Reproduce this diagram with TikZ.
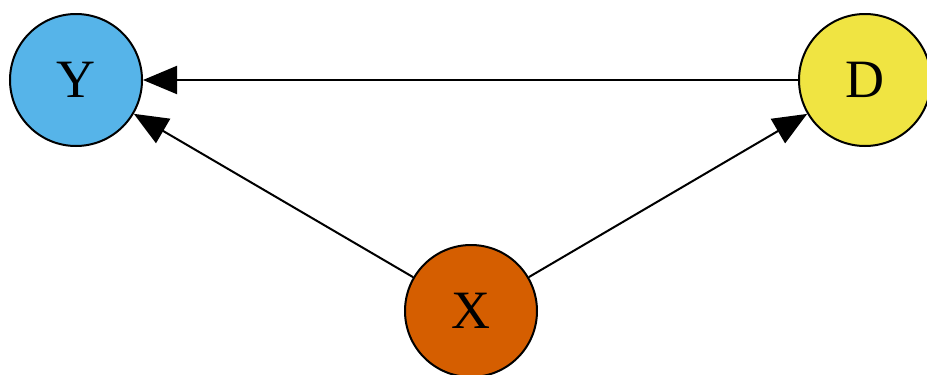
\documentclass[tikz,border=0pt]{standalone}
\usepackage{fontspec}
\setmainfont{Liberation Serif}
\usetikzlibrary{arrows.meta}
\definecolor{cY}{HTML}{56B4E9}
\definecolor{cD}{HTML}{F0E442}
\definecolor{cX}{HTML}{D55E00}
\begin{document}
\begin{tikzpicture}[x=1pt,y=-1pt,
  vnode/.style={circle,draw=black,line width=2pt,minimum size=132pt,inner sep=0pt,font=\fontsize{54}{54}\selectfont},
  edge/.style={line width=2pt,-{Triangle[length=34pt,width=28pt]}}]
\useasboundingbox (0,0) rectangle (927,375);
\node[vnode,fill=cY] (Y) at (76,80) {Y};
\node[vnode,fill=cD] (D) at (865,80) {D};
\node[vnode,fill=cX] (X) at (471,311) {X};
\draw[edge] (D) -- (Y);
\draw[edge] (X) -- (Y);
\draw[edge] (X) -- (D);
\end{tikzpicture}
\end{document}
